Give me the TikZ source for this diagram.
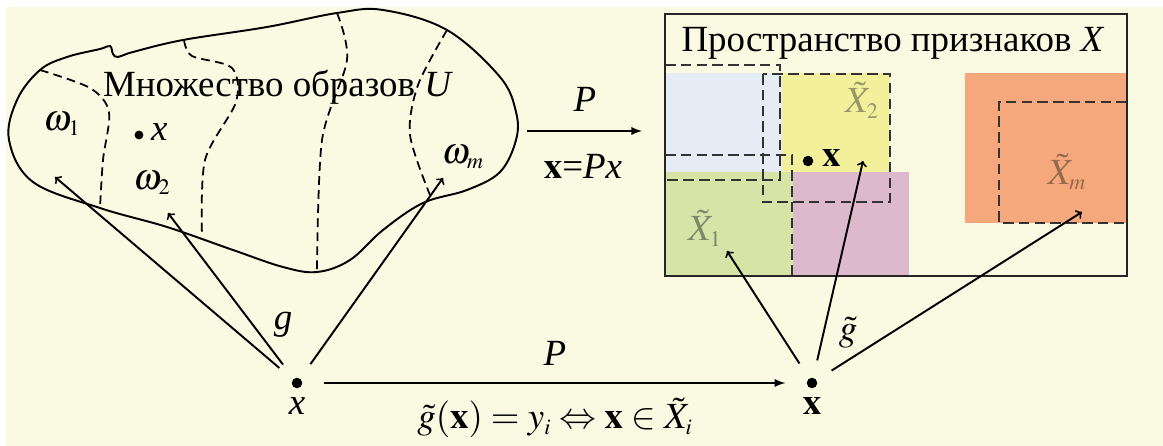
\documentclass[tikz,border=0pt]{standalone}
\usepackage{amsmath}
\usepackage{mathptmx}
\usepackage{fontspec}
\setmainfont{Liberation Serif}
\usepackage{tikz}
\usetikzlibrary{positioning}
\definecolor{bgcream}{RGB}{250,249,226}
\definecolor{regblue}{RGB}{230,236,246}
\definecolor{regyellow}{RGB}{242,240,154}
\definecolor{reggreen}{RGB}{214,228,168}
\definecolor{regpink}{RGB}{221,185,204}
\definecolor{regorange}{RGB}{244,168,124}
\definecolor{lblolive}{RGB}{150,150,105}
\definecolor{lblgray}{RGB}{125,135,105}
\definecolor{lblbrown}{RGB}{150,105,75}

\begin{document}
\begin{tikzpicture}[x=0.02cm, y=-0.02cm, font=\fontsize{21}{25}\selectfont,
  inner sep=1pt,
  dot/.style={circle, fill, inner sep=0pt, minimum size=6pt},
  smalldot/.style={circle, fill, inner sep=0pt, minimum size=5pt},
  gmap/.style={->, line width=1.1pt, shorten <=10pt},
  proj/.style={-latex, line width=1.1pt},
  border/.style={draw=black!85, line width=1.3pt},
  part/.style={line width=1pt, dash pattern=on 5pt off 3pt},
  region/.style={draw=black!80, line width=1pt, dash pattern=on 6pt off 3pt}]
  \useasboundingbox (0,0) rectangle (1163,446);
  \fill[bgcream] (6,7) rectangle (1163,446);

  % set of images U
  \draw[line width=1.1pt] plot[smooth cycle, tension=0.6] coordinates {
    (9,140) (17,100) (40,70) (67,57) (100,49) (110,46) (113,54) (118,57)
    (133,52) (183,40) (267,27) (337,13) (383,10) (447,30) (500,77)
    (516,112) (516,140) (500,172) (467,190) (423,203) (383,230)
    (350,260) (317,272) (283,267) (233,250) (167,227) (100,208) (33,182)};
  \draw[part] plot[smooth] coordinates {(40,70) (90,88) (109,112) (103,160) (100,208)};
  \draw[part] plot[smooth] coordinates {(184,40) (192,56) (232,68) (236,102) (205,160) (202,236)};
  \draw[part] plot[smooth] coordinates {(337,13) (347,60) (322,140) (317,271)};
  \draw[part] plot[smooth] coordinates {(447,30) (418,85) (410,135) (430,195)};
  \node (uname) at (278,87) {Множество образов \textit{U}};
  \node (w1) at (62,124) {$\omega_{\scriptscriptstyle 1}$};
  \node (w2) at (152,183) {$\omega_{\scriptscriptstyle 2}$};
  \node (wm) at (463,157) {$\omega_{\scriptscriptstyle m}$};
  \node[smalldot] (xu) at (139,135) {};
  \node[anchor=west] (xulbl) at (149,132) {\textit{x}};

  % feature space X
  \fill[regblue] (665,73) rectangle (782,172);
  \fill[regyellow] (782,73) rectangle (890,172);
  \fill[reggreen] (665,172) rectangle (793,276);
  \fill[regpink] (793,172) rectangle (909,276);
  \fill[regorange] (965,73) rectangle (1127,223);
  \draw[region] (665,65) -- (780,65) -- (780,180) -- (665,180);
  \draw[region] (763,74) rectangle (890,202);
  \draw[region] (665,155) -- (792,155) -- (792,276);
  \draw[region] (1127,102) -- (999,102) -- (999,223) -- (1127,223);
  \draw[border] (665,14) rectangle (1127,276);
  \node (xname) at (893,43) {Пространство признаков \textit{X}};
  \node[lblolive] (x2) at (862,100) {$\tilde{X}_{\scriptscriptstyle 2}$};
  \node[lblgray] (x1) at (705,228) {$\tilde{X}_{\scriptscriptstyle 1}$};
  \node[lblbrown] (xm) at (1067,172) {$\tilde{X}_{\scriptscriptstyle m}$};
  \node[dot] (xf) at (808,161) {};
  \node[anchor=west] (xflbl) at (820,158) {$\mathbf{x}$};

  % map P between the spaces
  \coordinate (ptop0) at (527,131);
  \coordinate (ptop1) at (642,131);
  \draw[proj] (ptop0) -- (ptop1);
  \node (ptoplbl) at (585,99) {\textit{P}};
  \node (pxlbl) at (583,166) {$\mathbf{x}$=\textit{Px}};

  % decision maps
  \node[dot] (xsrc) at (297,383) {};
  \node[below=4pt of xsrc] (xsrclbl) {\textit{x}};
  \node[dot] (xdst) at (812,383) {};
  \node[below=4pt of xdst] (xdstlbl) {$\mathbf{x}$};
  \draw[proj, shorten <=12pt, shorten >=12pt] (xsrc) -- (xdst);
  \node (plbl) at (555,353) {\textit{P}};
  \node (eqlbl) at (555,418) {$\tilde g(\mathbf{x}) = y_{\scriptscriptstyle i} \Leftrightarrow \mathbf{x}\in \tilde X_{\scriptscriptstyle i}$};

  \coordinate (w1tip) at (55,177);
  \coordinate (w2tip) at (168,213);
  \coordinate (wmtip) at (443,178);
  \draw[gmap] (xsrc) -- (w1tip);
  \draw[gmap] (xsrc) -- (w2tip);
  \draw[gmap] (xsrc) -- (wmtip);
  \node (glbl) at (283,325) {\textit{g}};

  \coordinate (x1tip) at (727,251);
  \coordinate (x2tip) at (863,161);
  \coordinate (xmtip) at (1082,212);
  \draw[gmap] (xdst) -- (x1tip);
  \draw[gmap] (xdst) -- (x2tip);
  \draw[gmap] (xdst) -- (xmtip);
  \node (gtlbl) at (848,333) {$\tilde g$};
\end{tikzpicture}
\end{document}
